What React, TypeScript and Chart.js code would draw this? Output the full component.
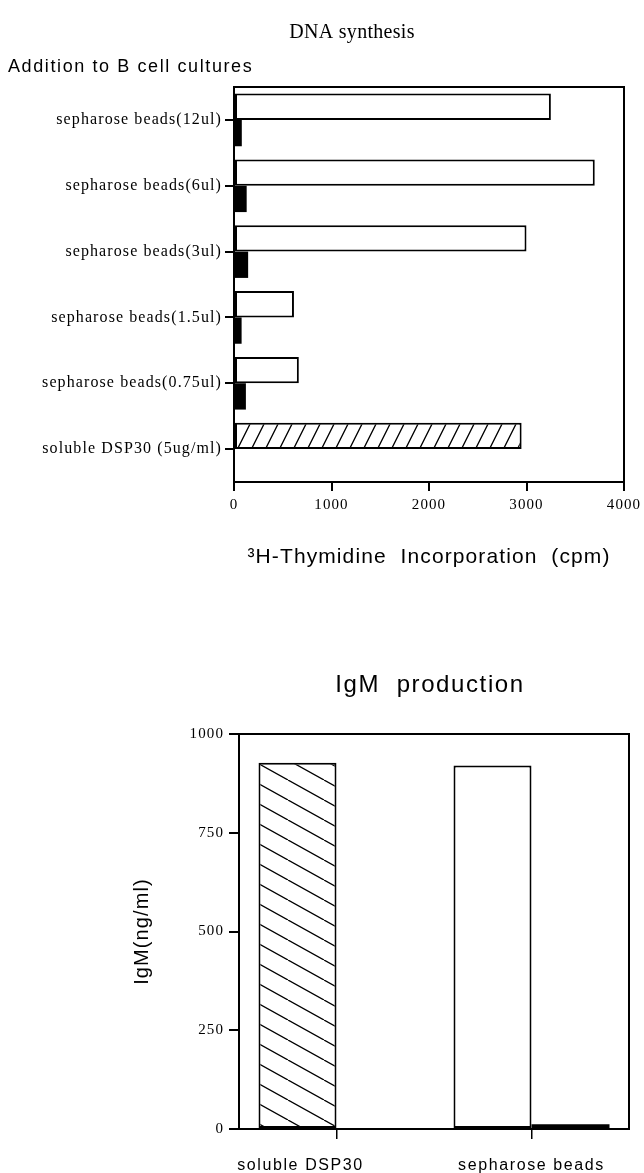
import React, { useEffect, useRef } from "react";
import { Chart, registerables } from "chart.js";

Chart.register(...registerables);

// ---------- data ----------
const dnaCategories = [
  "sepharose beads(12ul)",
  "sepharose beads(6ul)",
  "sepharose beads(3ul)",
  "sepharose beads(1.5ul)",
  "sepharose beads(0.75ul)",
  "soluble DSP30 (5ug/ml)",
];
const dnaUpperValues = [3250, 3700, 3000, 615, 665, 2950];
const dnaLowerValues = [80, 130, 145, 78, 122, null];
const dnaTickStep = 1000;
const dnaMax = 4000;

const igmCategories = ["soluble DSP30", "sepharose beads"];
const igmLeftValues = [927, 920];
const igmRightValues = [0, 12];
const igmTickStep = 250;
const igmMax = 1000;

// layout-only: horizontal shift of the lower chart's category labels
const igmLabelShift = [-36, 0];

const SERIF = "'Liberation Serif', 'Times New Roman', serif";
const SANS = "'Liberation Sans', Arial, Helvetica, sans-serif";
const AXIS_SPACING = "1.1px";

function makeHatch(w: number, h: number, forward: boolean, lw: number) {
  const c = document.createElement("canvas");
  c.width = w;
  c.height = h;
  const g = c.getContext("2d")!;
  g.fillStyle = "#fff";
  g.fillRect(0, 0, w, h);
  g.strokeStyle = "#000";
  g.lineWidth = lw;
  g.beginPath();
  for (const dx of [-w, 0, w]) {
    if (forward) {
      g.moveTo(dx, h);
      g.lineTo(dx + w, 0);
    } else {
      g.moveTo(dx, 0);
      g.lineTo(dx + w, h);
    }
  }
  g.stroke();
  return g.createPattern(c, "repeat")!;
}

type TextItem = { text: string; x: number; y: number; font: string; align: CanvasTextAlign; spacing: string };

const frameAndText = (items: TextItem[], extra?: (chart: any) => void) => ({
  id: "frameAndText",
  beforeDraw(chart: any) {
    (chart.ctx as any).letterSpacing = AXIS_SPACING;
  },
  afterDraw(chart: any) {
    const { ctx, chartArea } = chart;
    ctx.save();
    ctx.strokeStyle = "#000";
    ctx.lineWidth = 2;
    ctx.strokeRect(chartArea.left, chartArea.top, chartArea.right - chartArea.left, chartArea.bottom - chartArea.top);
    ctx.fillStyle = "#000";
    ctx.textBaseline = "middle";
    for (const it of items) {
      ctx.font = it.font;
      ctx.textAlign = it.align;
      (ctx as any).letterSpacing = it.spacing;
      ctx.fillText(it.text, it.x, it.y);
    }
    if (extra) extra(chart);
    ctx.restore();
  },
});

const plainNumber = (v: any) => String(v);

function DnaChart() {
  const ref = useRef<HTMLCanvasElement>(null);
  useEffect(() => {
    const hatch = makeHatch(14, 28, true, 1.3);
    const upperColors = dnaCategories.map((_, i) => (i === dnaCategories.length - 1 ? hatch : "#fff"));
    const chart = new Chart(ref.current!, {
      type: "bar",
      data: {
        labels: dnaCategories,
        datasets: [
          {
            data: dnaUpperValues,
            backgroundColor: upperColors as any,
            borderColor: "#000",
            borderWidth: 2,
            borderSkipped: false,
            categoryPercentage: 0.8,
            barPercentage: 1.0,
          },
          {
            data: dnaLowerValues as any,
            backgroundColor: "#000",
            borderColor: "#000",
            borderWidth: 0,
            categoryPercentage: 0.8,
            barPercentage: 1.0,
          },
        ],
      },
      options: {
        indexAxis: "y",
        responsive: false,
        animation: false,
        layout: { padding: { top: 87, right: 18, left: 0, bottom: 0 } },
        plugins: { legend: { display: false }, tooltip: { enabled: false }, title: { display: false } },
        scales: {
          x: {
            min: 0,
            max: dnaMax,
            ticks: {
              stepSize: dnaTickStep,
              callback: plainNumber,
              font: { family: SERIF, size: 15 },
              color: "#000",
              padding: 5,
              maxRotation: 0,
            },
            grid: { drawOnChartArea: false, drawTicks: true, tickLength: 9, color: "#000", lineWidth: 2 },
            border: { color: "#000", width: 2 },
            title: {
              display: true,
              text: "³H-Thymidine  Incorporation  (cpm)",
              font: { family: SANS, size: 21 },
              color: "#000",
              padding: { top: 0, bottom: 30 },
            },
            afterFit: (s: any) => {
              s.height = 118;
            },
          },
          y: {
            ticks: { font: { family: SERIF, size: 16 }, color: "#000", padding: 3 },
            grid: { offset: false, drawOnChartArea: false, tickLength: 9, color: "#000", lineWidth: 2 },
            border: { color: "#000", width: 2 },
            afterFit: (s: any) => {
              s.width = 234;
            },
          },
        },
      } as any,
      plugins: [
        frameAndText([
          { text: "DNA synthesis", x: 352, y: 33, font: `20px ${SERIF}`, align: "center", spacing: "0.3px" },
          { text: "Addition to B cell cultures", x: 8, y: 67, font: `18px ${SANS}`, align: "left", spacing: "1.6px" },
        ]),
      ],
    });
    return () => chart.destroy();
  }, []);
  return <canvas ref={ref} width={644} height={600} style={{ display: "block" }} />;
}

function IgmChart() {
  const ref = useRef<HTMLCanvasElement>(null);
  useEffect(() => {
    const hatch = makeHatch(36, 20, false, 1.3);
    const drawCategoryLabels = (chart: any) => {
      const xs = chart.scales.x;
      const ctx = chart.ctx;
      ctx.font = `16px ${SANS}`;
      ctx.textAlign = "center";
      ctx.textBaseline = "middle";
      (ctx as any).letterSpacing = "1.6px";
      igmCategories.forEach((label, i) => {
        ctx.fillText(label, xs.getPixelForTick(i) + igmLabelShift[i], xs.top + 37);
      });
    };
    const chart = new Chart(ref.current!, {
      type: "bar",
      data: {
        labels: igmCategories,
        datasets: [
          {
            data: igmLeftValues,
            backgroundColor: [hatch, "#fff"] as any,
            borderColor: "#000",
            borderWidth: 2,
            borderSkipped: false,
            categoryPercentage: 0.8,
            barPercentage: 1.0,
          },
          {
            data: igmRightValues,
            backgroundColor: "#000",
            borderColor: "#000",
            borderWidth: 0,
            categoryPercentage: 0.8,
            barPercentage: 1.0,
          },
        ],
      },
      options: {
        responsive: false,
        animation: false,
        layout: { padding: { top: 134, right: 15, left: 0, bottom: 0 } },
        plugins: { legend: { display: false }, tooltip: { enabled: false }, title: { display: false } },
        scales: {
          y: {
            min: 0,
            max: igmMax,
            ticks: {
              stepSize: igmTickStep,
              callback: plainNumber,
              font: { family: SERIF, size: 15 },
              color: "#000",
              padding: 5,
            },
            grid: { drawOnChartArea: false, tickLength: 10, color: "#000", lineWidth: 2 },
            border: { color: "#000", width: 2 },
            title: {
              display: true,
              text: "IgM(ng/ml)",
              font: { family: SANS, size: 20 },
              color: "#000",
              padding: { top: 130, bottom: 0 },
            },
            afterFit: (s: any) => {
              s.width = 239;
            },
          },
          x: {
            ticks: { display: false },
            grid: { offset: false, drawOnChartArea: false, tickLength: 10, color: "#000", lineWidth: 1.5 },
            border: { color: "#000", width: 2 },
            afterFit: (s: any) => {
              s.height = 44;
            },
          },
        },
      } as any,
      plugins: [
        frameAndText(
          [{ text: "IgM  production", x: 430, y: 85, font: `24px ${SANS}`, align: "center", spacing: "1.6px" }],
          drawCategoryLabels
        ),
      ],
    });
    return () => chart.destroy();
  }, []);
  return <canvas ref={ref} width={644} height={573} style={{ display: "block" }} />;
}

export default function App() {
  return (
    <div style={{ position: "absolute", left: 0, top: 0, width: 644, height: 1173, background: "#fff" }}>
      <DnaChart />
      <IgmChart />
    </div>
  );
}
